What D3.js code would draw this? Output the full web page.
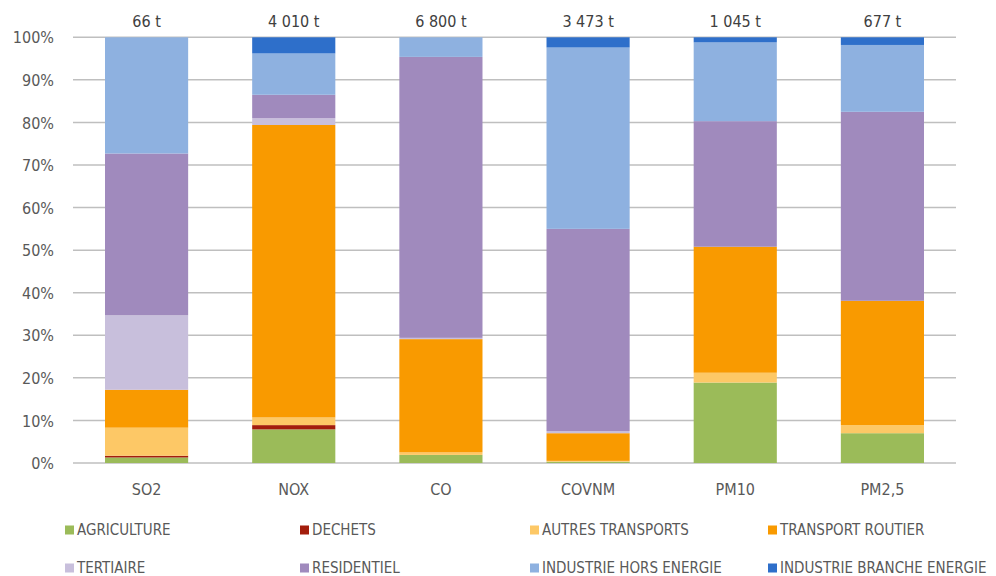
<!DOCTYPE html>
<html><head><meta charset="utf-8">
<script src="https://cdn.jsdelivr.net/npm/d3@7"></script>
<style>
body{margin:0;background:#fff;}
text{font-family:"Liberation Sans Narrow","Arial Narrow","DejaVu Sans Condensed",sans-serif;}
</style></head>
<body><svg id="c" width="996" height="576"></svg>
<script>
const categories = ["SO2","NOX","CO","COVNM","PM10","PM2,5"];
const totals = ["66 t","4 010 t","6 800 t","3 473 t","1 045 t","677 t"];
const seriesNames = ["AGRICULTURE","DECHETS","AUTRES TRANSPORTS","TRANSPORT ROUTIER","TERTIAIRE","RESIDENTIEL","INDUSTRIE HORS ENERGIE","INDUSTRIE BRANCHE ENERGIE"];
const agriculture   = [1.3, 7.9, 1.9, 0.3, 18.9, 7.0];
const dechets       = [0.4, 1.0, 0.0, 0.0, 0.0, 0.0];
const autresTransp  = [6.6, 1.8, 0.6, 0.2, 2.3, 1.9];
const transportRout = [8.9, 68.7, 26.6, 6.5, 29.6, 29.2];
const tertiaire     = [17.5, 1.6, 0.3, 0.5, 0.0, 0.0];
const residentiel   = [38.0, 5.5, 66.0, 47.5, 29.5, 44.4];
const industrieHors = [27.3, 9.7, 4.6, 42.6, 18.5, 15.7];
const industrieBr   = [0.0, 3.8, 0.0, 2.4, 1.2, 1.8];
const yTicks = [0,10,20,30,40,50,60,70,80,90,100];
const colors = ["#9bbb59","#a31d0c","#fdc866","#f99a00","#c8bfdc","#a08abd","#8eb1e0","#2e6fca"];

const seriesArr = [agriculture,dechets,autresTransp,transportRout,tertiaire,residentiel,industrieHors,industrieBr];
const rows = categories.map((c,i)=>{const r={cat:c}; seriesNames.forEach((s,j)=>r[s]=seriesArr[j][i]); return r;});

const svg = d3.select("#c");
const x = d3.scaleBand().domain(categories).range([73,956]).paddingInner(0.435).paddingOuter(0.2175);
const y = d3.scaleLinear().domain([0,100]).range([463,37.3]);

// gridlines
svg.append("g").selectAll("line").data(yTicks).join("line")
  .attr("x1",73).attr("x2",956).attr("y1",d=>y(d)).attr("y2",d=>y(d))
  .attr("stroke","#bfbfbf").attr("stroke-width",1.5);

// y axis labels
const yAxis = d3.axisLeft(y).tickValues(yTicks).tickFormat(d=>d+"%").tickSize(0).tickPadding(0);
const ya = svg.append("g").attr("transform","translate(54,0)").call(yAxis);
ya.select(".domain").remove();
ya.selectAll("text").attr("fill","#595959").style("font-size","16px").attr("dy","0.35em");

// stacks
const stack = d3.stack().keys(seriesNames);
const stacked = stack(rows);
svg.append("g").selectAll("g").data(stacked).join("g")
  .attr("fill",(d,i)=>colors[i])
  .selectAll("rect").data(d=>d).join("rect")
  .attr("x",d=>x(d.data.cat)).attr("width",x.bandwidth())
  .attr("y",d=>y(d[1])).attr("height",d=>Math.max(0,y(d[0])-y(d[1])));

// x axis labels
const xAxis = d3.axisBottom(x).tickSize(0).tickPadding(0);
const xa = svg.append("g").attr("transform","translate(0,484)").call(xAxis);
xa.select(".domain").remove();
xa.selectAll("text").attr("fill","#595959").style("font-size","16px");

// totals
svg.append("g").selectAll("text").data(categories).join("text")
  .attr("x",d=>x(d)+x.bandwidth()/2).attr("y",27)
  .attr("text-anchor","middle").attr("fill","#404040").style("font-size","16px")
  .text((d,i)=>totals[i]);

// legend
const legX = [65,300,530,768];
const legY = [530,568];
const leg = svg.append("g").selectAll("g").data(seriesNames).join("g")
  .attr("transform",(d,i)=>`translate(${legX[i%4]},${legY[Math.floor(i/4)]})`);
leg.append("rect").attr("x",0).attr("y",-4.5).attr("width",9).attr("height",9).attr("fill",(d,i)=>colors[i]);
leg.append("text").attr("x",12).attr("dy","0.35em").attr("fill","#595959").style("font-size","15px").text(d=>d);
</script></body></html>
